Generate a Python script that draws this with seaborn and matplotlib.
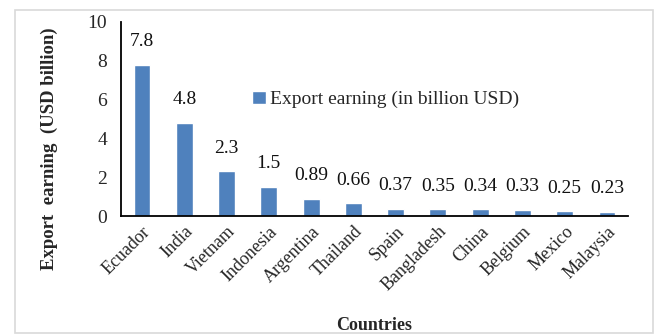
import matplotlib
matplotlib.use("Agg")
import matplotlib.pyplot as plt
import seaborn as sns
import pandas as pd
from matplotlib.patches import Rectangle

countries = ["Ecuador", "India", "Vietnam", "Indonesia", "Argentina", "Thailand",
             "Spain", "Bangladesh", "China", "Belgium", "Mexico", "Malaysia"]
values = [7.8, 4.8, 2.3, 1.5, 0.89, 0.66, 0.37, 0.35, 0.34, 0.33, 0.25, 0.23]
labels = ["7.8", "4.8", "2.3", "1.5", "0.89", "0.66", "0.37", "0.35", "0.34", "0.33", "0.25", "0.23"]
series_name = "Export earning (in billion USD)"

df = pd.DataFrame({"Country": countries, "Value": values, "Series": series_name})

sns.set_theme(style="white")
plt.rcParams['font.family'] = ['Liberation Serif', 'DejaVu Serif']

fig = plt.figure(figsize=(6.57, 3.36), dpi=100)
ax = fig.add_axes([0.184, 0.357, 0.772, 0.578])

sns.barplot(data=df, x="Country", y="Value", hue="Series", palette=["#4F81BD"],
            width=0.4, ax=ax, saturation=1)

for i, (v, t) in enumerate(zip(values, labels)):
    ax.text(i, v + 0.75, t, ha="center", va="bottom", fontsize=14, color="#111111")

ax.set_ylim(0, 10)
ax.set_yticks([0, 2, 4, 6, 8, 10])
ax.tick_params(axis='y', labelsize=14, length=0, pad=10)
ax.tick_params(axis='x', labelsize=13, length=0, pad=5)
plt.setp(ax.get_xticklabels(), rotation=45, ha="right", rotation_mode="anchor")
ax.set_xlim(-0.5, 11.5)

for s in ["top", "right"]:
    ax.spines[s].set_visible(False)
ax.spines["left"].set_color("black")
ax.spines["bottom"].set_color("black")
ax.spines["left"].set_linewidth(1.3)
ax.spines["bottom"].set_linewidth(1.3)

ax.set_ylabel("Export  earning  (USD billion)", fontsize=13.5, fontweight="bold")
ax.set_xlabel("Countries", fontsize=13, fontweight="bold")
ax.xaxis.set_label_coords(0.50, -0.52)
ax.yaxis.set_label_coords(-0.124, 0.345)

leg = ax.legend(loc="center left", bbox_to_anchor=(0.224, 0.6), frameon=False,
                fontsize=14, handlelength=0.7, handleheight=0.7, handletextpad=0.2)

fig.patches.append(Rectangle((15/657, 3/336), 638/657, 323/336, transform=fig.transFigure,
                             fill=False, edgecolor="#d9d9d9", linewidth=1.2))

fig.savefig("out.png", dpi=100)
